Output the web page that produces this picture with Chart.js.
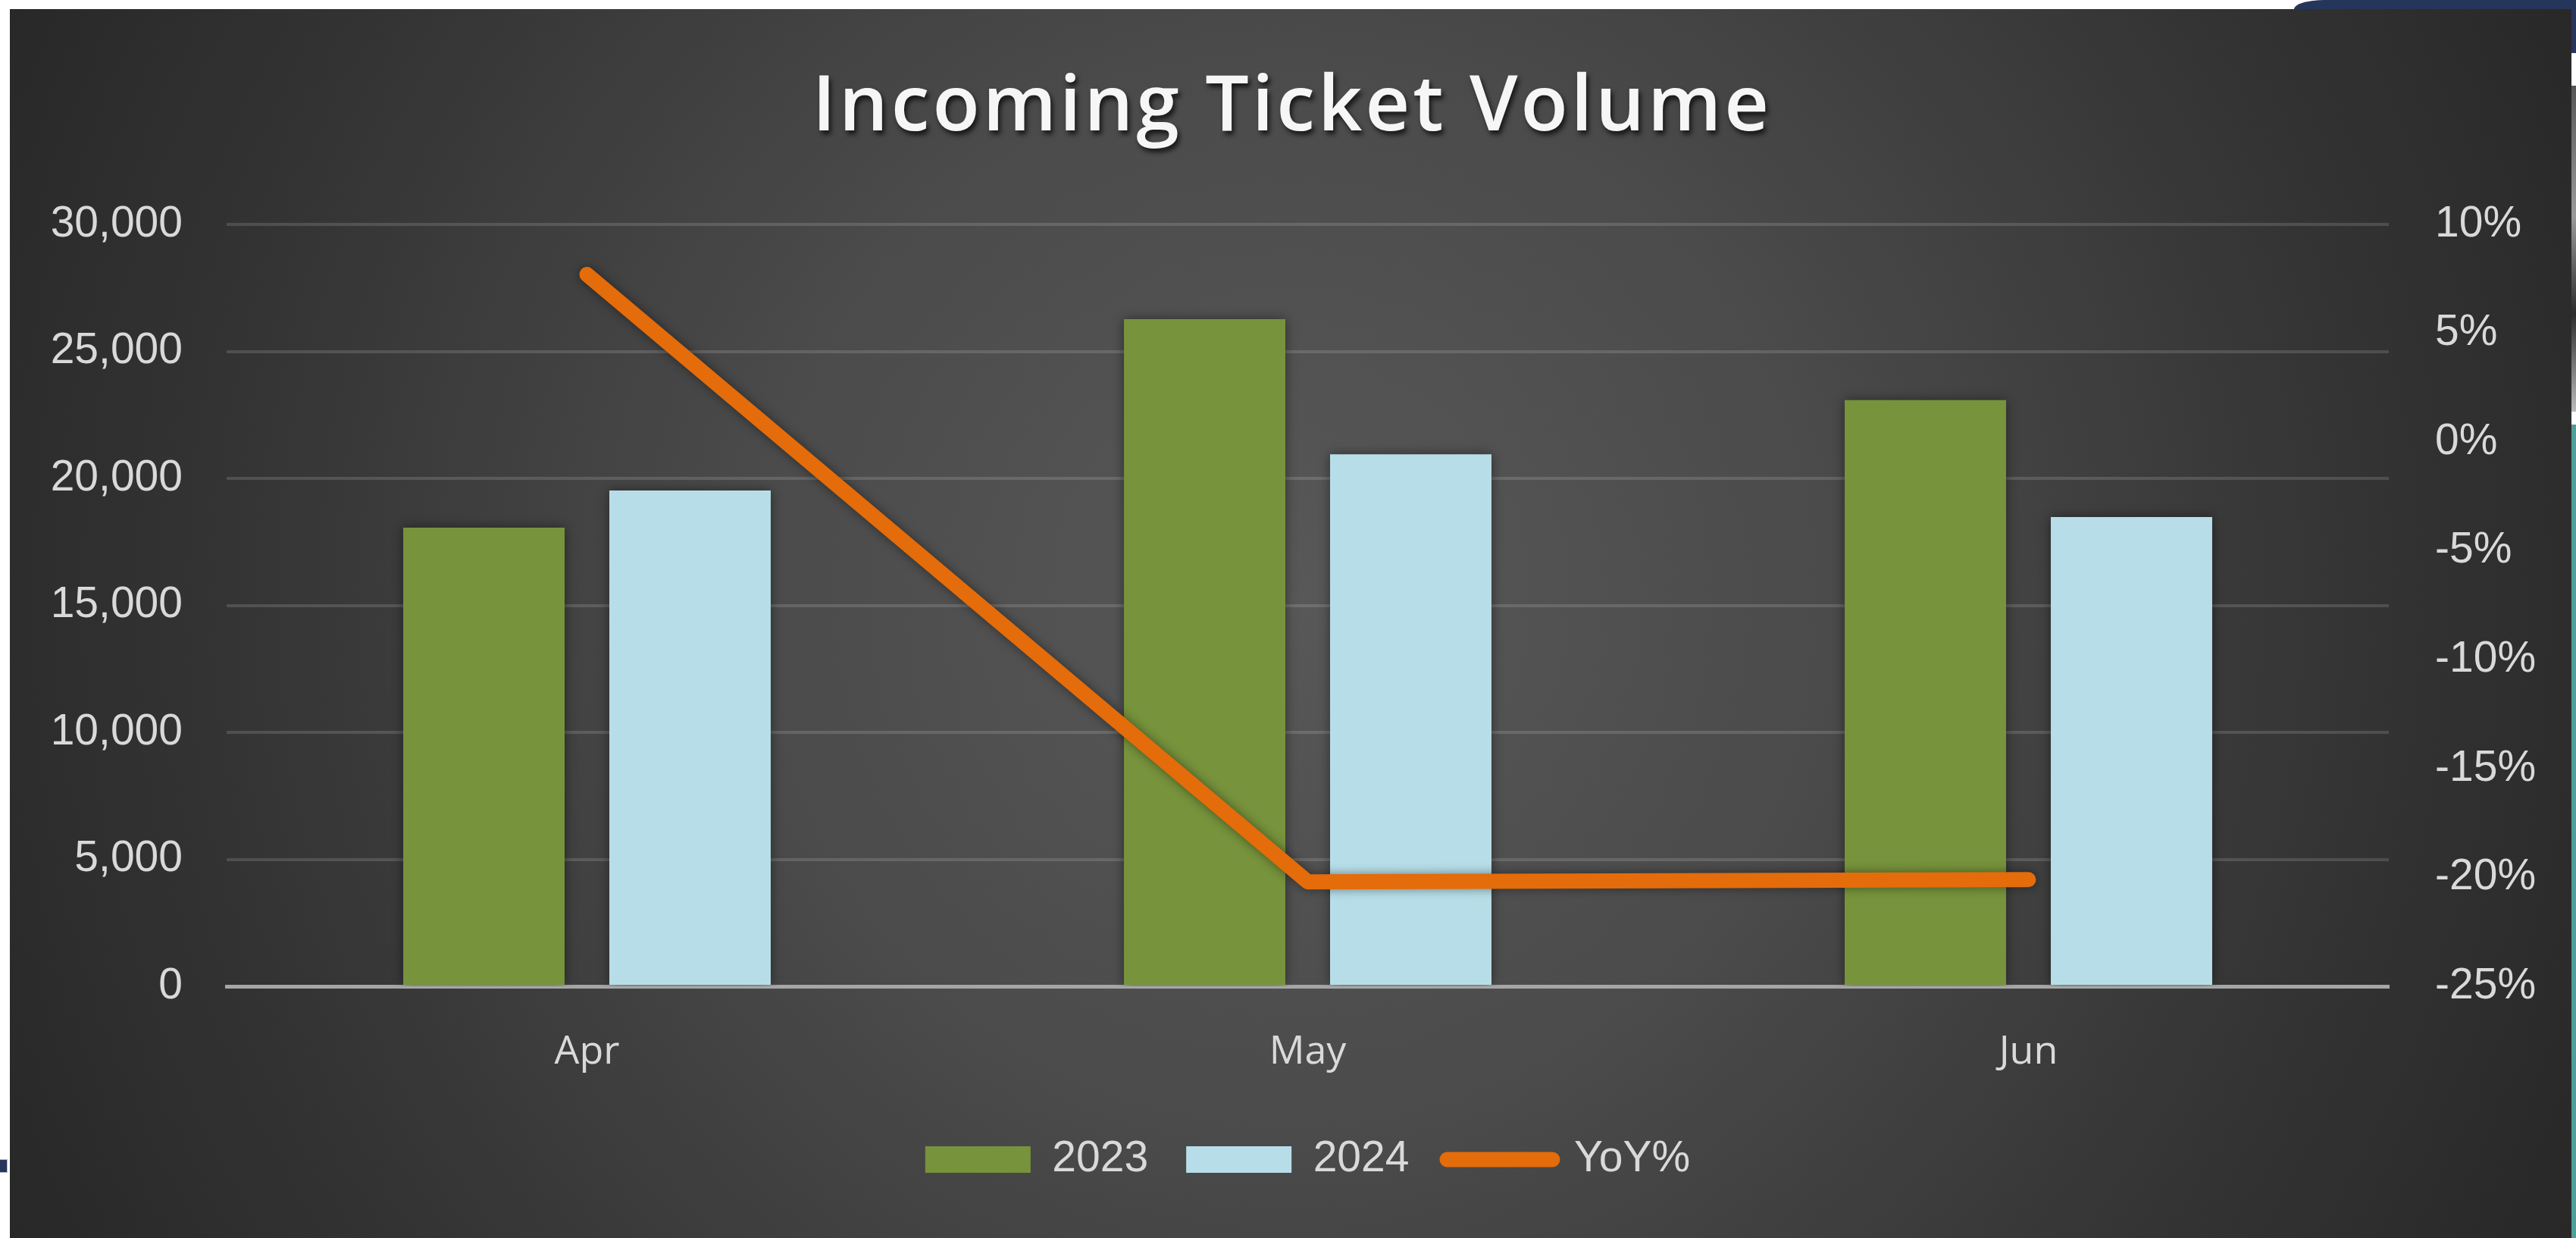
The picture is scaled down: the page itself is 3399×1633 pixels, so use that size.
<!DOCTYPE html>
<html>
<head>
<meta charset="utf-8">
<title>Incoming Ticket Volume</title>
<script src="https://cdn.jsdelivr.net/npm/chart.js@4.4.1/dist/chart.umd.min.js"></script>
<style>
  html, body { margin: 0; padding: 0; background: #fff; }
  body { width: 3399px; height: 1633px; position: relative; overflow: hidden; }
  #panel {
    position: absolute; left: 13px; top: 12px; width: 3380px; height: 1621px;
    background: radial-gradient(circle 1950px at 50% 48%, #585858 0px, #4b4b4b 700px, #343434 1400px, #262626 1950px);
  }
  #panel canvas { position: absolute; left: 0; top: 0; }
  /* bits of the slide around the chart */
  .deco { position: absolute; }
  #navyTop { left: 3027px; top: 0; width: 372px; height: 12px; background: #26355a; border-top-left-radius: 40px 12px; }
  #edgeNavy { left: 3393px; top: 0; width: 6px; height: 70px; background: #26355a; }
  #edgePhoto { left: 3393px; top: 113px; width: 6px; height: 430px; background: linear-gradient(#555, #9a9a9a 40%, #2c2c2c 70%, #bbb); }
  #edgeTeal { left: 3393px; top: 560px; width: 6px; height: 1073px; background: #4f9e9a; }
  #leftTab { left: 0; top: 1529px; width: 9px; height: 16px; background: #26355a; border: 1px solid #b5b9c8; border-left: none; }
</style>
</head>
<body>
<div class="deco" id="navyTop"></div>
<div class="deco" id="edgeNavy"></div>
<div class="deco" id="edgePhoto"></div>
<div class="deco" id="edgeTeal"></div>
<div class="deco" id="leftTab"></div>
<div id="panel">
  <canvas id="ticketChart" width="3380" height="1621"></canvas>
</div>
<script>
const chartTitle = 'Incoming Ticket Volume';
const months = ['Apr', 'May', 'Jun'];
const tickets2023 = [18060, 26270, 23080];
const tickets2024 = [19520, 20950, 18480];
const yoyPct = [7.7, -20.2, -20.1];
const volumeRange = [0, 30000, 5000];   // min, max, step
const pctRange = [-25, 10, 5];

const labelColor = '#d9d9d9';
const numFont = { family: '"Liberation Sans", Arial, sans-serif', size: 57 };

// title with letter spacing and a drop shadow
const spacedTitle = {
  id: 'spacedTitle',
  afterDraw(chart) {
    const ctx = chart.ctx;
    ctx.save();
    ctx.font = '600 102px "Open Sans"';
    ctx.letterSpacing = '4px';
    ctx.textAlign = 'center';
    ctx.textBaseline = 'alphabetic';
    ctx.shadowColor = 'rgba(0,0,0,0.7)';
    ctx.shadowOffsetX = 3;
    ctx.shadowOffsetY = 5;
    ctx.shadowBlur = 6;
    ctx.fillStyle = '#f6f6f6';
    ctx.fillText(chartTitle, chart.width / 2 + 2, 160);
    ctx.restore();
  }
};

// soft shadow behind bars and the line
const markShadow = {
  id: 'markShadow',
  beforeDatasetsDraw(chart) {
    const ctx = chart.ctx;
    ctx.save();
    ctx.shadowColor = 'rgba(0,0,0,0.45)';
    ctx.shadowBlur = 14;
  },
  afterDatasetsDraw(chart) {
    chart.ctx.restore();
  }
};

const ctx = document.getElementById('ticketChart').getContext('2d');
const ticketChart = new Chart(ctx, {
  type: 'bar',
  data: {
    labels: months,
    datasets: [
      {
        label: '2023',
        data: tickets2023,
        backgroundColor: '#77933c',
        borderWidth: 0,
        pointStyle: 'rect',
        yAxisID: 'y',
        order: 1,
        categoryPercentage: 0.572,
        barPercentage: 0.783
      },
      {
        label: '2024',
        data: tickets2024,
        backgroundColor: '#b7dee8',
        borderWidth: 0,
        pointStyle: 'rect',
        yAxisID: 'y',
        order: 1,
        categoryPercentage: 0.572,
        barPercentage: 0.783
      },
      {
        type: 'line',
        label: 'YoY%',
        data: yoyPct,
        borderColor: '#e46c0a',
        backgroundColor: '#e46c0a',
        borderWidth: 20,
        borderCapStyle: 'round',
        borderJoinStyle: 'round',
        pointRadius: 0,
        pointHoverRadius: 0,
        pointStyle: 'line',
        tension: 0,
        yAxisID: 'y1',
        order: 0
      }
    ]
  },
  options: {
    responsive: false,
    animation: false,
    devicePixelRatio: 1,
    events: [],
    layout: { padding: { top: 284, bottom: 65, left: 0, right: 0 } },
    plugins: {
      title: { display: false },
      tooltip: { enabled: false },
      legend: {
        display: true,
        position: 'bottom',
        fullSize: false,
        labels: {
          usePointStyle: true,
          pointStyleWidth: 139,
          boxHeight: 35,
          padding: 50,
          color: labelColor,
          font: numFont,
          sort: (a, b) => a.datasetIndex - b.datasetIndex,
          generateLabels(chart) {
            const items = Chart.defaults.plugins.legend.labels.generateLabels(chart);
            items.forEach(item => {
              if (item.pointStyle === 'line') item.lineCap = 'round';
            });
            return items;
          }
        }
      }
    },
    scales: {
      x: {
        grid: { display: false, drawTicks: false },
        border: { display: true, color: '#a6a6a6', width: 5 },
        ticks: { color: labelColor, font: { family: '"Open Sans"', size: 52 }, padding: 56 },
        afterFit(scale) { scale.height = 150; }
      },
      y: {
        position: 'left',
        min: volumeRange[0],
        max: volumeRange[1],
        ticks: {
          stepSize: volumeRange[2],
          color: labelColor,
          font: numFont,
          padding: 58,
          callback: v => v.toLocaleString('en-US')
        },
        grid: { color: 'rgba(255,255,255,0.14)', lineWidth: 4, drawTicks: false },
        border: { display: false },
        afterFit(scale) { scale.width = 286; }
      },
      y1: {
        position: 'right',
        min: pctRange[0],
        max: pctRange[1],
        ticks: {
          stepSize: pctRange[2],
          color: labelColor,
          font: numFont,
          padding: 61,
          callback: v => v + '%'
        },
        grid: { display: false, drawTicks: false },
        border: { display: false },
        afterFit(scale) { scale.width = 241; }
      }
    }
  },
  plugins: [markShadow, spacedTitle]
});
</script>
</body>
</html>
